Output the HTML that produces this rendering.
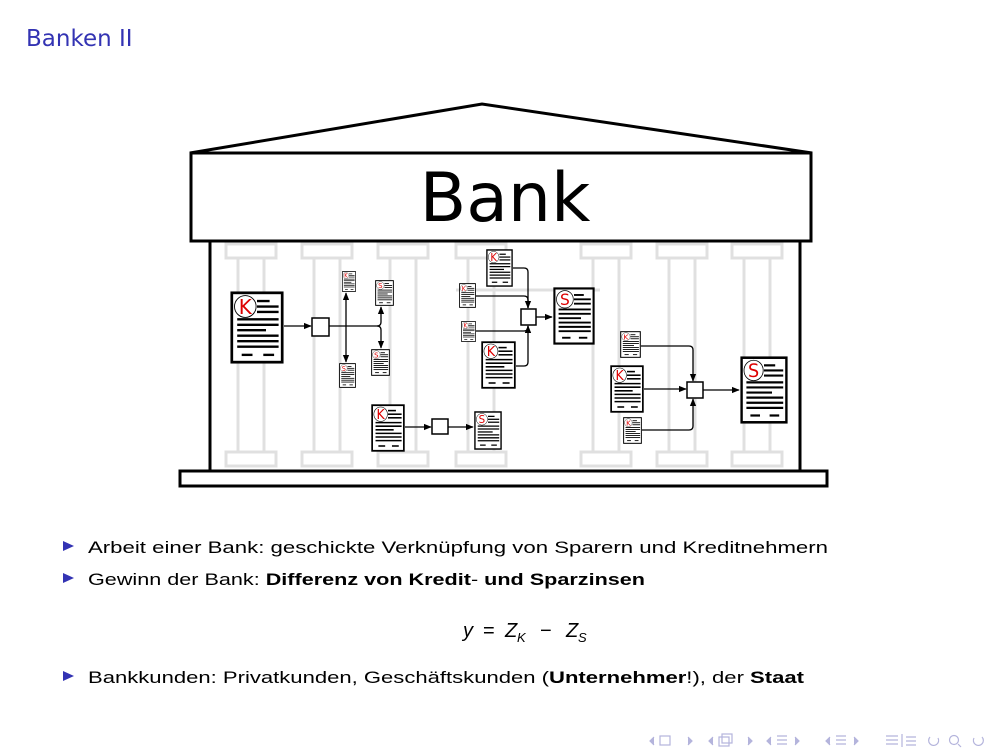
<!DOCTYPE html>
<html><head><meta charset="utf-8"><style>
html,body{margin:0;padding:0;background:#fff;}
svg{display:block;}
text{font-family:"DejaVu Sans","Liberation Sans",sans-serif;}
</style></head><body>
<svg width="1008" height="756" viewBox="0 0 1008 756" xmlns="http://www.w3.org/2000/svg">
<defs>
<marker id="ar" viewBox="0 0 10 10" refX="9" refY="5" markerWidth="6" markerHeight="6" orient="auto"><path d="M0,1 L10,5 L0,9 Z" fill="#000"/></marker>
<symbol id="dK" viewBox="0 0 60 80" preserveAspectRatio="none">
<rect x="2" y="2" width="56" height="76" fill="#fff" stroke="#000" stroke-width="3"/>
<g stroke="#000" stroke-width="2.6">
<line x1="30" y1="11" x2="44" y2="11"/><line x1="30" y1="17" x2="54" y2="17"/><line x1="30" y1="23" x2="54" y2="23"/>
<line x1="8" y1="31" x2="54" y2="31"/><line x1="8" y1="37" x2="54" y2="37"/><line x1="8" y1="43" x2="40" y2="43"/>
<line x1="8" y1="49" x2="54" y2="49"/><line x1="8" y1="55" x2="54" y2="55"/><line x1="8" y1="61" x2="54" y2="61"/>
<line x1="13" y1="70" x2="25" y2="70"/><line x1="37" y1="70" x2="49" y2="70"/></g>
<circle cx="17" cy="17" r="12" fill="#fff" stroke="#000" stroke-width="1"/>
<text x="17" y="25" font-size="22" text-anchor="middle" fill="#d00">K</text>
</symbol>
<symbol id="dS" viewBox="0 0 60 80" preserveAspectRatio="none">
<rect x="2" y="2" width="56" height="76" fill="#fff" stroke="#000" stroke-width="3"/>
<g stroke="#000" stroke-width="2.6">
<line x1="30" y1="11" x2="44" y2="11"/><line x1="30" y1="17" x2="54" y2="17"/><line x1="30" y1="23" x2="54" y2="23"/>
<line x1="8" y1="31" x2="54" y2="31"/><line x1="8" y1="37" x2="54" y2="37"/><line x1="8" y1="43" x2="40" y2="43"/>
<line x1="8" y1="49" x2="54" y2="49"/><line x1="8" y1="55" x2="54" y2="55"/><line x1="8" y1="61" x2="54" y2="61"/>
<line x1="13" y1="70" x2="25" y2="70"/><line x1="37" y1="70" x2="49" y2="70"/></g>
<circle cx="17" cy="17" r="12" fill="#fff" stroke="#000" stroke-width="1"/>
<text x="17" y="25" font-size="22" text-anchor="middle" fill="#d00">S</text>
</symbol>
</defs>

<text x="26" y="46" font-size="23" fill="#3333b3" font-family="Liberation Sans, sans-serif">Banken II</text>

<g fill="none" stroke="#e0e0e0" stroke-width="3">
<g id="col"><rect x="226" y="244" width="50" height="14"/><rect x="238" y="258" width="26" height="194"/><rect x="226" y="452" width="50" height="14"/></g>
<use href="#col" x="76"/><use href="#col" x="152"/><use href="#col" x="230"/><use href="#col" x="355"/><use href="#col" x="431"/><use href="#col" x="506"/>
<line x1="456" y1="290" x2="600" y2="290"/>
</g>

<polyline points="190,153 482,104 812,153" fill="none" stroke="#000" stroke-width="3"/>
<rect x="191" y="153" width="620" height="88" fill="#fff" stroke="#000" stroke-width="3"/>
<text x="505" y="221" font-size="68" text-anchor="middle">Bank</text>
<line x1="210" y1="241" x2="210" y2="471" stroke="#000" stroke-width="3"/>
<line x1="800" y1="241" x2="800" y2="471" stroke="#000" stroke-width="3"/>
<rect x="180" y="471" width="647" height="15" fill="#fff" stroke="#000" stroke-width="3"/>

<g fill="none" stroke="#000" stroke-width="1.3">
<line x1="284" y1="326" x2="311" y2="326" marker-end="url(#ar)"/>
<path d="M329,326 H377 Q381,326 381,322 V307" marker-end="url(#ar)"/>
<line x1="346" y1="326" x2="346" y2="293" marker-end="url(#ar)"/>
<line x1="346" y1="326" x2="346" y2="362" marker-end="url(#ar)"/>
<path d="M377,326 Q381,326 381,330 V348" marker-end="url(#ar)"/>
<line x1="405" y1="427" x2="431" y2="427" marker-end="url(#ar)"/>
<line x1="448" y1="427" x2="473" y2="427" marker-end="url(#ar)"/>
<path d="M513,268 H524 Q528,268 528,272 V308" marker-end="url(#ar)"/>
<path d="M476,296 H524 Q528,296 528,300 V308"/>
<path d="M476,331 H524 Q528,331 528,327 V326" marker-end="url(#ar)"/>
<path d="M516,366 H524 Q528,366 528,362 V326" marker-end="url(#ar)"/>
<line x1="536" y1="317" x2="552" y2="317" marker-end="url(#ar)"/>
<path d="M641,346 H689 Q693,346 693,350 V381" marker-end="url(#ar)"/>
<line x1="644" y1="389" x2="686" y2="389" marker-end="url(#ar)"/>
<path d="M642,430 H689 Q693,430 693,426 V399" marker-end="url(#ar)"/>
<line x1="703" y1="390" x2="739" y2="390" marker-end="url(#ar)"/>
</g>
<g fill="#fff" stroke="#000" stroke-width="1.5">
<rect x="312" y="318" width="17" height="18"/>
<rect x="432" y="419" width="16" height="15"/>
<rect x="521" y="309" width="15" height="16"/>
<rect x="687" y="382" width="16" height="16"/>
</g>

<use href="#dK" x="230" y="291" width="54" height="73"/>
<use href="#dK" x="342" y="271" width="14" height="21"/>
<use href="#dS" x="339" y="363" width="17" height="25"/>
<use href="#dS" x="375" y="280" width="19" height="26"/>
<use href="#dS" x="371" y="349" width="19" height="27"/>
<use href="#dK" x="371" y="404" width="34" height="48"/>
<use href="#dS" x="474" y="411" width="28" height="39"/>
<use href="#dK" x="486" y="249" width="27" height="38"/>
<use href="#dK" x="459" y="283" width="17" height="25"/>
<use href="#dK" x="461" y="321" width="15" height="21"/>
<use href="#dK" x="481" y="341" width="35" height="48"/>
<use href="#dS" x="553" y="287" width="42" height="58"/>
<use href="#dK" x="620" y="331" width="21" height="27"/>
<use href="#dK" x="610" y="365" width="34" height="48"/>
<use href="#dK" x="623" y="417" width="19" height="27"/>
<use href="#dS" x="740" y="356" width="48" height="68"/>

<g fill="#3333b3"><path d="M63,541 L74,546 L63,551 Z"/><path d="M63,573 L74,578 L63,583 Z"/><path d="M63,671 L74,676 L63,681 Z"/></g>
<g font-size="17" fill="#000">
<text x="88" y="553" textLength="740" lengthAdjust="spacingAndGlyphs" style="font-family:'Liberation Sans',sans-serif">Arbeit einer Bank: geschickte Verknüpfung von Sparern und Kreditnehmern</text>
<text x="88" y="585" textLength="557" lengthAdjust="spacingAndGlyphs" style="font-family:'Liberation Sans',sans-serif">Gewinn der Bank: <tspan font-weight="bold">Differenz von Kredit</tspan>- <tspan font-weight="bold">und Sparzinsen</tspan></text>
<g font-style="italic" font-size="20" style="font-family:'Liberation Sans',sans-serif">
<text x="463" y="637" style="font-family:'Liberation Sans',sans-serif">y</text>
<text x="483" y="637" font-style="normal" style="font-family:'Liberation Sans',sans-serif">=</text>
<text x="505" y="637" style="font-family:'Liberation Sans',sans-serif">Z</text>
<text x="517" y="642" font-size="13" style="font-family:'Liberation Sans',sans-serif">K</text>
<text x="540" y="637" font-style="normal" style="font-family:'Liberation Sans',sans-serif">−</text>
<text x="566" y="637" style="font-family:'Liberation Sans',sans-serif">Z</text>
<text x="578" y="642" font-size="13" style="font-family:'Liberation Sans',sans-serif">S</text>
</g>
<text x="88" y="683" textLength="716" lengthAdjust="spacingAndGlyphs" style="font-family:'Liberation Sans',sans-serif">Bankkunden: Privatkunden, Geschäftskunden (<tspan font-weight="bold">Unternehmer</tspan>!), der <tspan font-weight="bold">Staat</tspan></text>
</g>

<g fill="none" stroke="#b4b4dc" stroke-width="1.2">
<path d="M654,737 L650,741 L654,745" fill="#b4b4dc"/><rect x="660" y="736" width="10" height="9"/><path d="M688,737 L692,741 L688,745" fill="#b4b4dc"/>
<path d="M713,737 L709,741 L713,745" fill="#b4b4dc"/><rect x="719" y="737" width="10" height="9"/><rect x="722" y="734" width="10" height="9"/><path d="M748,737 L752,741 L748,745" fill="#b4b4dc"/>
<path d="M771,737 L767,741 L771,745" fill="#b4b4dc"/><path d="M777,736 H787 M777,740 H787 M777,744 H787"/><path d="M795,737 L799,741 L795,745" fill="#b4b4dc"/>
<path d="M830,737 L826,741 L830,745" fill="#b4b4dc"/><path d="M836,736 H846 M836,740 H846 M836,744 H846"/><path d="M854,737 L858,741 L854,745" fill="#b4b4dc"/>
<path d="M886,736 H898 M886,740 H898 M886,744 H898 M902,734 V747 M906,737 H916 M906,741 H916 M906,745 H916"/>
<path d="M930,737 A5,5 0 1 0 938,738"/><circle cx="954" cy="740" r="4.5"/><path d="M958,744 L961,747"/><path d="M982,737 A5,5 0 1 1 974,738"/>
</g>
</svg>
</body></html>
